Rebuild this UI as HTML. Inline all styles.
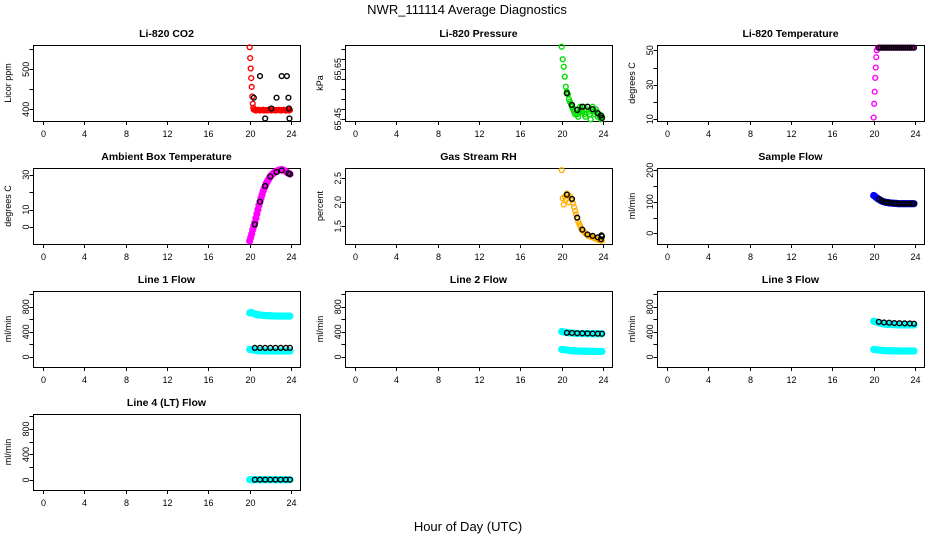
<!DOCTYPE html>
<html><head><meta charset="utf-8">
<style>
html,body{margin:0;padding:0;background:#fff;}
svg{display:block;font-family:"Liberation Sans",Arial,sans-serif;}
</style></head>
<body>
<svg id="chart" width="936" height="540" viewBox="0 0 936 540" xmlns="http://www.w3.org/2000/svg">
<text x="467" y="14" font-size="13" text-anchor="middle">NWR_111114  Average Diagnostics</text>
<text x="468" y="531" font-size="13" text-anchor="middle">Hour of Day (UTC)</text>
</svg>
<script>
// ---- data ----
const xTicks = [0,4,8,12,16,20,24];
const H40 = [20.0,20.1,20.2,20.3,20.4,20.5,20.6,20.7,20.8,20.9,21.0,21.1,21.2,21.3,21.4,21.5,21.6,21.7,21.8,21.9,22.0,22.1,22.2,22.3,22.4,22.5,22.6,22.7,22.8,22.9,23.0,23.1,23.2,23.3,23.4,23.5,23.6,23.7,23.8,23.9];
const blackHours8 = [20.5,21.0,21.5,22.0,22.5,23.0,23.5,23.9];

const co2Hours = [20.0,20.05,20.1,20.15,20.2,20.25,20.3,20.35,20.4,20.5,20.6,20.7,20.8,20.9,21.0,21.1,21.2,21.3,21.4,21.5,21.6,21.7,21.8,21.9,22.0,22.1,22.2,22.3,22.4,22.5,22.6,22.7,22.8,22.9,23.0,23.1,23.2,23.3,23.4,23.5,23.6,23.7,23.8,23.9];
const co2Values = [555,528,502,478,456,432,414,404,399,398,397,398,399,398,397,398,398,399,397,398,398,397,399,398,398,397,398,399,398,397,398,398,399,398,397,398,398,399,398,397,398,398,397,398];
const co2BlackHours = [20.4,21.0,21.5,22.1,22.6,23.1,23.6,23.75,23.8,23.85];
const co2BlackValues = [429,483,377,402,429,483,483,429,402,377];

const presValues = [65.74,65.69,65.66,65.62,65.58,65.56,65.55,65.53,65.52,65.51,65.50,65.49,65.48,65.47,65.49,65.47,65.46,65.48,65.50,65.49,65.48,65.50,65.47,65.46,65.49,65.50,65.48,65.47,65.45,65.49,65.50,65.48,65.47,65.49,65.48,65.46,65.47,65.46,65.45,65.46];
const presBlackHours = [20.5,21.0,21.5,22.0,22.5,23.0,23.5,23.8,23.9];
const presBlackValues = [65.554,65.507,65.487,65.50,65.50,65.49,65.474,65.465,65.455];

const tempHours = [20.0,20.05,20.1,20.15,20.2,20.25,20.3,20.4,20.5,20.6,20.7,20.8,20.9,21.0,21.1,21.2,21.3,21.4,21.5,21.6,21.7,21.8,21.9,22.0,22.1,22.2,22.3,22.4,22.5,22.6,22.7,22.8,22.9,23.0,23.1,23.2,23.3,23.4,23.5,23.6,23.7,23.8,23.9];
const tempValues = [11,19,26,34,40,46,50,51.5,51.5,51.5,51.5,51.5,51.5,51.5,51.5,51.5,51.5,51.5,51.5,51.5,51.5,51.5,51.5,51.5,51.5,51.5,51.5,51.5,51.5,51.5,51.5,51.5,51.5,51.5,51.5,51.5,51.5,51.5,51.5,51.5,51.5,51.5,51.5];
const tempBlackHours = [20.5,20.7,20.9,21.1,21.3,21.5,21.7,21.9,22.1,22.3,22.5,22.7,22.9,23.1,23.3,23.5,23.7,23.9];
const tempBlackValues = [51.5,51.5,51.5,51.5,51.5,51.5,51.5,51.5,51.5,51.5,51.5,51.5,51.5,51.5,51.5,51.5,51.5,51.5];

const ambValues = [-8,-6,-4,-1.5,0.5,2.5,5,7.5,10,12.5,14.5,16.5,18.5,20.5,22,23.5,25,26,27,28,29,29.7,30.3,30.8,31.3,31.7,32,32.3,32.5,32.7,32.8,32.9,32.8,32.5,32.2,31.8,31.4,31,30.7,30.4];
const ambBlackHours = [20.5,21.0,21.5,22.0,22.6,23.1,23.75,23.9];
const ambBlackValues = [1.5,14.5,23.5,29,31.5,32.5,30.8,30.3];

const rhValues = [2.67,2.08,1.95,2.12,2.05,2.18,2.15,2.0,2.12,2.08,2.05,1.98,1.9,1.82,1.75,1.68,1.6,1.55,1.5,1.45,1.42,1.4,1.37,1.35,1.33,1.32,1.3,1.29,1.28,1.27,1.27,1.26,1.25,1.24,1.23,1.22,1.22,1.21,1.2,1.2];
const rhBlackHours = [20.5,21.0,21.5,22.0,22.5,23.0,23.5,23.8,23.85,23.9];
const rhBlackValues = [2.16,2.07,1.68,1.43,1.33,1.30,1.27,1.23,1.31,1.29];

const sampValues = [120,118,115,112,110,108,106,104,102,101,100,99,98,98,97,97,96,96,96,95,95,95,95,94,94,94,94,94,94,94,94,94,94,94,94,94,94,94,94,94];
const sampBlackHours = [20.5,20.75,21.0,21.25,21.5,21.75,22.0,22.25,22.5,22.75,23.0,23.25,23.5,23.75,23.9];
const sampBlackValues = [109,104,100,98,97,96,95,95,94,94,94,94,94,94,94];

const l1Upper = [700,710,705,695,690,685,680,675,672,670,668,665,663,662,660,660,658,657,656,655,655,654,654,653,653,652,652,652,651,651,651,650,650,650,650,650,650,650,650,650];
const l1Lower = [120,118,115,112,110,108,105,103,102,100,100,99,98,98,97,97,96,96,96,95,95,95,95,95,95,95,95,95,95,95,95,95,95,95,95,95,95,95,95,95];
const l1Black = [145,145,145,145,145,145,145,145];

const l2Upper = [405,400,398,395,392,390,388,386,384,382,380,379,378,377,376,375,375,374,374,373,373,372,372,372,371,371,371,371,370,370,370,370,370,370,370,370,370,370,370,370];
const l2Lower = [120,118,116,114,112,110,108,106,104,102,100,99,98,97,96,95,95,94,94,93,93,92,92,91,91,91,90,90,90,90,89,89,89,89,88,88,88,88,88,88];
const l2Black = [385,382,378,376,374,372,371,370];

const l3Upper = [570,565,560,555,550,545,540,535,530,528,525,523,521,520,519,518,517,516,515,515,514,514,513,513,512,512,512,511,511,511,511,510,510,510,510,510,510,510,510,510];
const l3Lower = [120,118,116,114,112,110,108,106,105,104,103,102,101,100,100,99,99,98,98,98,97,97,97,97,96,96,96,96,96,96,95,95,95,95,95,95,95,95,95,95];
const l3Black = [560,550,545,540,537,535,533,530];

const l4Values = [5,5,5,5,5,5,5,5,5,5,5,5,5,5,5,5,5,5,5,5,5,5,5,5,5,5,5,5,5,5,5,5,5,5,5,5,5,5,5,5];
const l4Black = [5,5,5,5,5,5,5,5];

// ---- layout ----
const colX = [0,312,624];
const rowY = [45,168,291,414];
const BOX_L = 33, BOX_R = 300, BOX_H = 76;
const X0 = 43, X24 = 291;

const panels = [
 {key:'co2',title:'Li-820 CO2',ylab:'Licor ppm',c:0,r:0,top:560.75,bot:370.75,ticks:[400,450,500,550],labels:[400,500],
  series:[[co2Hours,co2Values,'#ff0000',false],[co2BlackHours,co2BlackValues,'#000',false]]},
 {key:'pressure',title:'Li-820 Pressure',ylab:'kPa',c:1,r:0,top:65.747,bot:65.443,ticks:[65.45,65.49,65.53,65.57,65.61,65.65,65.69,65.73],labels:[65.45,65.65],
  series:[[H40,presValues,'#00dd00',false],[presBlackHours,presBlackValues,'#000',false]]},
 {key:'temperature',title:'Li-820 Temperature',ylab:'degrees C',c:2,r:0,top:53.07,bot:9.01,ticks:[10,20,30,40,50],labels:[10,30,50],
  series:[[tempHours,tempValues,'#ff00ff',false],[tempBlackHours,tempBlackValues,'#000',false]]},
 {key:'ambient',title:'Ambient Box Temperature',ylab:'degrees C',c:0,r:1,top:33.84,bot:-9.75,ticks:[0,10,20,30],labels:[0,10,30],
  series:[[H40,ambValues,'#ff00ff',true],[ambBlackHours,ambBlackValues,'#000',false]]},
 {key:'rh',title:'Gas Stream RH',ylab:'percent',c:1,r:1,top:2.7146,bot:1.131,ticks:[1.5,2.0,2.5],labels:['1.5','2.0','2.5'],
  series:[[H40,rhValues,'#ffb000',false],[rhBlackHours,rhBlackValues,'#000',false]]},
 {key:'sample-flow',title:'Sample Flow',ylab:'ml/min',c:2,r:1,top:207.3,bot:-34,ticks:[0,50,100,150,200],labels:[0,100,200],
  series:[[H40,sampValues,'#0000ff',true],[sampBlackHours,sampBlackValues,'#000',false]]},
 {key:'line1-flow',title:'Line 1 Flow',ylab:'ml/min',c:0,r:2,top:1049.7,bot:-159,ticks:[0,200,400,600,800,1000],labels:[0,400,800],
  series:[[H40,l1Upper,'#00ffff',true],[H40,l1Lower,'#00ffff',true],[blackHours8,l1Black,'#000',false]]},
 {key:'line2-flow',title:'Line 2 Flow',ylab:'ml/min',c:1,r:2,top:1049.7,bot:-159,ticks:[0,200,400,600,800,1000],labels:[0,400,800],
  series:[[H40,l2Upper,'#00ffff',true],[H40,l2Lower,'#00ffff',true],[blackHours8,l2Black,'#000',false]]},
 {key:'line3-flow',title:'Line 3 Flow',ylab:'ml/min',c:2,r:2,top:1049.7,bot:-159,ticks:[0,200,400,600,800,1000],labels:[0,400,800],
  series:[[H40,l3Upper,'#00ffff',true],[H40,l3Lower,'#00ffff',true],[blackHours8,l3Black,'#000',false]]},
 {key:'line4-flow',title:'Line 4 (LT) Flow',ylab:'ml/min',c:0,r:3,top:1035,bot:-157,ticks:[0,200,400,600,800,1000],labels:[0,400,800],
  series:[[H40,l4Values,'#00ffff',true],[blackHours8,l4Black,'#000',false]]}
];

const NS = 'http://www.w3.org/2000/svg';
const svg = document.getElementById('chart');
function mk(tag, attrs, parent){
  const e = document.createElementNS(NS, tag);
  for (const k in attrs) e.setAttribute(k, attrs[k]);
  parent.appendChild(e);
  return e;
}

panels.forEach(p => {
  const ox = colX[p.c], oy = rowY[p.r];
  const g = mk('g', {}, svg);
  
  
  const xs = h => ox + X0 + (h/24)*(X24-X0);
  const ys = v => oy + (p.top - v)/(p.top - p.bot)*BOX_H;

  const t = mk('text', {x: ox + (BOX_L+BOX_R)/2, y: oy-8, 'font-size': 10.5, 'font-weight': 'bold', 'text-anchor': 'middle'}, g);
  
  
  t.textContent = p.title;

  const box = mk('rect', {x: ox+BOX_L+0.5, y: oy+0.5, width: BOX_R-BOX_L, height: BOX_H, fill: 'none', stroke: '#000', 'stroke-width': 1}, g);
  
  

  // x axis
  const xa = mk('g', {}, g);
  
  
  xTicks.forEach(tv => {
    const x = Math.round(xs(tv)) + 0.5;
    mk('line', {x1: x, x2: x, y1: oy+BOX_H+0.5, y2: oy+BOX_H+4, stroke: '#000'}, xa);
    const lb = mk('text', {x: x, y: oy+BOX_H+16, 'font-size': 9, 'text-anchor': 'middle'}, xa);
    
    
    lb.textContent = tv;
  });

  // y axis
  const ya = mk('g', {}, g);
  
  
  p.ticks.forEach(tv => {
    const y = Math.round(ys(tv)) + 0.5;
    mk('line', {x1: ox+BOX_L-3.5, x2: ox+BOX_L+0.5, y1: y, y2: y, stroke: '#000'}, ya);
  });
  p.labels.forEach(lv => {
    const y = ys(parseFloat(lv));
    const lx = ox + 29;
    const lb = mk('text', {x: lx, y: y, 'font-size': 9, 'text-anchor': 'middle', transform: 'rotate(-90 '+lx+' '+y+')'}, ya);
    
    
    lb.textContent = lv;
  });
  const yl = ox + 11, ym = oy + BOX_H/2;
  const ylab = mk('text', {x: yl, y: ym, 'font-size': 9, 'text-anchor': 'middle', transform: 'rotate(-90 '+yl+' '+ym+')'}, g);
  
  
  ylab.textContent = p.ylab;

  // series
  p.series.forEach((s, si) => {
    const sg = mk('g', {}, g);
    
    
    const hours = s[0], vals = s[1], col = s[2], filled = s[3];
    for (let i = 0; i < vals.length; i++) {
      const c = mk('circle', {cx: xs(hours[i]), cy: ys(vals[i]), r: filled ? 3.2 : 2.4,
        fill: filled ? col : 'none', stroke: col, 'stroke-width': filled ? 0.8 : 1.4}, sg);
      
      
    }
  });
});
</script>
</body></html>
